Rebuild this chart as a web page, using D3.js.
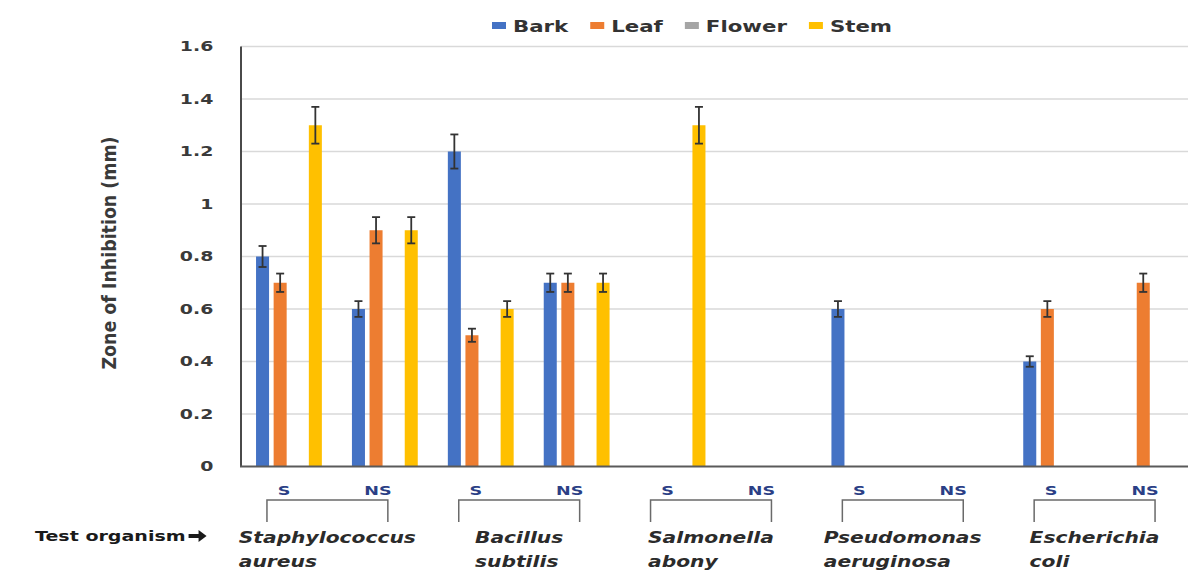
<!DOCTYPE html>
<html>
<head>
<meta charset="utf-8">
<script src="https://cdn.jsdelivr.net/npm/d3@7/dist/d3.min.js"></script>
<style>
  html, body { margin: 0; padding: 0; background: #fff; }
  svg { display: block; }
  text { font-family: "DejaVu Sans", "Open Sans", sans-serif; }
</style>
</head>
<body>
<svg id="chart" width="1188" height="572"></svg>
<script>
// Test organisms (two-line names) and the two strain types per organism
const organisms = [
  ["Staphylococcus", "aureus"],
  ["Bacillus", "subtilis"],
  ["Salmonella", "abony"],
  ["Pseudomonas", "aeruginosa"],
  ["Escherichia", "coli"]
];
const strains = ["S", "NS"];
const categories = organisms.flatMap(o => strains.map(s => o.join(" ") + " " + s));

// Plant parts (series)
const series = ["Bark", "Leaf", "Flower", "Stem"];
const colors = ["#4472C4", "#ED7D31", "#A5A5A5", "#FFC000"];

// Zone of inhibition (mm), one value per category
const bark   = [0.8, 0.6, 1.2, 0.7, 0,   0, 0.6, 0, 0.4, 0];
const leaf   = [0.7, 0.9, 0.5, 0.7, 0,   0, 0,   0, 0.6, 0.7];
const flower = [0,   0,   0,   0,   0,   0, 0,   0, 0,   0];
const stem   = [1.3, 0.9, 0.6, 0.7, 1.3, 0, 0,   0, 0,   0];

// Standard error for each value
const barkErr   = [0.04,  0.03, 0.065, 0.035, 0,    0, 0.03, 0, 0.02, 0];
const leafErr   = [0.035, 0.05, 0.025, 0.035, 0,    0, 0,    0, 0.03, 0.035];
const flowerErr = [0,     0,    0,     0,     0,    0, 0,    0, 0,    0];
const stemErr   = [0.07,  0.05, 0.03,  0.035, 0.07, 0, 0,    0, 0,    0];

const yTicks = [0, 0.2, 0.4, 0.6, 0.8, 1, 1.2, 1.4, 1.6];
const yTickLabels = ["0", "0.2", "0.4", "0.6", "0.8", "1", "1.2", "1.4", "1.6"];

const yTitle = "Zone of Inhibition (mm)";
const rowTitle = "Test organism";

const values = [bark, leaf, flower, stem];
const errors = [barkErr, leafErr, flowerErr, stemErr];

// ---- layout ----
const svg = d3.select("#chart");
const plotLeft = 241, plotTop = 46.5, plotBottom = 466.5;
const plotRight = 1200;           // the category run continues past the right edge
const SX = 1.35;                  // wide lettering

const x0 = d3.scaleBand().domain(categories).range([plotLeft, plotRight]).padding(0);
const groupW = 70.4;
const x1 = d3.scaleBand().domain(series).range([-groupW / 2, groupW / 2])
  .paddingInner(0.26).paddingOuter(0.13);
const y = d3.scaleLinear().domain([0, 1.6]).range([plotBottom, plotTop]);

const cx = c => x0(c) + x0.bandwidth() / 2;

// gridlines
svg.append("g")
  .selectAll("line")
  .data(yTicks.filter(d => d > 0))
  .join("line")
  .attr("x1", plotLeft).attr("x2", 1188)
  .attr("y1", d => y(d)).attr("y2", d => y(d))
  .attr("stroke", "#d9d9d9").attr("stroke-width", 1.3);

// y axis with tick labels
const yAxis = svg.append("g")
  .attr("transform", `translate(${plotLeft},0)`)
  .call(d3.axisLeft(y).tickValues(yTicks)
    .tickFormat((d, i) => yTickLabels[i]).tickSize(0).tickPadding(20.5));
yAxis.select(".domain").remove();
yAxis.selectAll("text")
  .attr("transform", `scale(${SX},1)`)
  .attr("font-size", 14).attr("font-weight", "bold")
  .attr("font-family", "'DejaVu Sans', sans-serif")
  .attr("fill", "#3a3a3a");

svg.append("line")
  .attr("x1", plotLeft).attr("x2", plotLeft).attr("y1", y(1.6)).attr("y2", y(0))
  .attr("stroke", "#4a4a4a").attr("stroke-width", 2);

// bars
const flat = [];
categories.forEach((c, i) => series.forEach((s, j) => {
  flat.push({ c, s, j, v: values[j][i], e: errors[j][i] });
}));
const shown = flat.filter(d => d.v > 0);

svg.append("g")
  .selectAll("rect")
  .data(shown)
  .join("rect")
  .attr("x", d => cx(d.c) + x1(d.s))
  .attr("width", x1.bandwidth())
  .attr("y", d => y(d.v))
  .attr("height", d => y(0) - y(d.v))
  .attr("fill", d => colors[d.j]);

// error bars
const eb = svg.append("g").attr("stroke", "#333").attr("stroke-width", 1.8);
shown.forEach(d => {
  const xm = cx(d.c) + x1(d.s) + x1.bandwidth() / 2;
  eb.append("line").attr("x1", xm).attr("x2", xm)
    .attr("y1", y(d.v - d.e)).attr("y2", y(d.v + d.e));
  [d.v - d.e, d.v + d.e].forEach(v => {
    eb.append("line").attr("x1", xm - 4).attr("x2", xm + 4)
      .attr("y1", y(v)).attr("y2", y(v));
  });
});

// baseline
svg.append("line")
  .attr("x1", plotLeft - 1).attr("x2", 1188).attr("y1", y(0)).attr("y2", y(0))
  .attr("stroke", "#5a5a5a").attr("stroke-width", 2);

// legend
const lg = svg.append("g");
let lx = 492;
series.forEach((s, j) => {
  lg.append("rect").attr("x", lx).attr("y", 22).attr("width", 14).attr("height", 7)
    .attr("fill", colors[j]);
  const t = lg.append("text")
    .attr("transform", `translate(${lx + 21},32) scale(1.42,1)`)
    .attr("font-size", 15).attr("font-weight", "bold").attr("fill", "#333")
    .text(s);
  lx += 21 + t.node().getComputedTextLength() * 1.42 + 22;
});

// y title
svg.append("text")
  .attr("transform", `translate(116,253) rotate(-90)`)
  .attr("text-anchor", "middle")
  .attr("font-family", "'DejaVu Sans Condensed', 'DejaVu Sans', sans-serif")
  .attr("font-size", 19).attr("font-weight", "bold").attr("fill", "#3a3a3a")
  .attr("textLength", 233).attr("lengthAdjust", "spacingAndGlyphs")
  .text(yTitle);

// strain labels, brackets and organism names
const lab = svg.append("g");
organisms.forEach((o, k) => {
  const cS = cx(categories[2 * k]);
  const cN = cx(categories[2 * k + 1]);
  lab.append("text")
    .attr("transform", `translate(${cS - 5},495) scale(${SX},1)`)
    .attr("text-anchor", "middle").attr("font-size", 13).attr("font-weight", "bold")
    .attr("fill", "#2b3f86").text(strains[0]);
  lab.append("text")
    .attr("transform", `translate(${cN - 7},495) scale(${SX},1)`)
    .attr("text-anchor", "middle").attr("font-size", 13).attr("font-weight", "bold")
    .attr("fill", "#2b3f86").text(strains[1]);

  const bl = cS - 22, br = cN + 3;
  lab.append("path")
    .attr("d", `M${bl},522V500H${br}V522`)
    .attr("fill", "none").attr("stroke", "#6a6a6a").attr("stroke-width", 1.5);

  const mid = (bl + br) / 2;
  const t1 = lab.append("text")
    .attr("font-size", 15).attr("font-weight", "bold").attr("font-style", "italic")
    .attr("fill", "#2b2b2b").text(o[0]);
  const w1 = t1.node().getComputedTextLength() * SX;
  const sx0 = mid - w1 / 2;
  t1.attr("transform", `translate(${sx0},543) scale(${SX},1)`);
  lab.append("text")
    .attr("transform", `translate(${sx0},567) scale(${SX},1)`)
    .attr("font-size", 15).attr("font-weight", "bold").attr("font-style", "italic")
    .attr("fill", "#2b2b2b").text(o[1]);
});

// row title with arrow
const rt = svg.append("text")
  .attr("transform", `translate(35,541) scale(1.36,1)`)
  .attr("font-size", 14).attr("font-weight", "bold").attr("fill", "#1a1a1a")
  .text(rowTitle);
const rtEnd = 35 + rt.node().getComputedTextLength() * 1.36 + 3;
svg.append("path")
  .attr("d", `M${rtEnd},534h10v-4l8,6l-8,6v-4h-10z`)
  .attr("fill", "#1a1a1a");
</script>
</body>
</html>
